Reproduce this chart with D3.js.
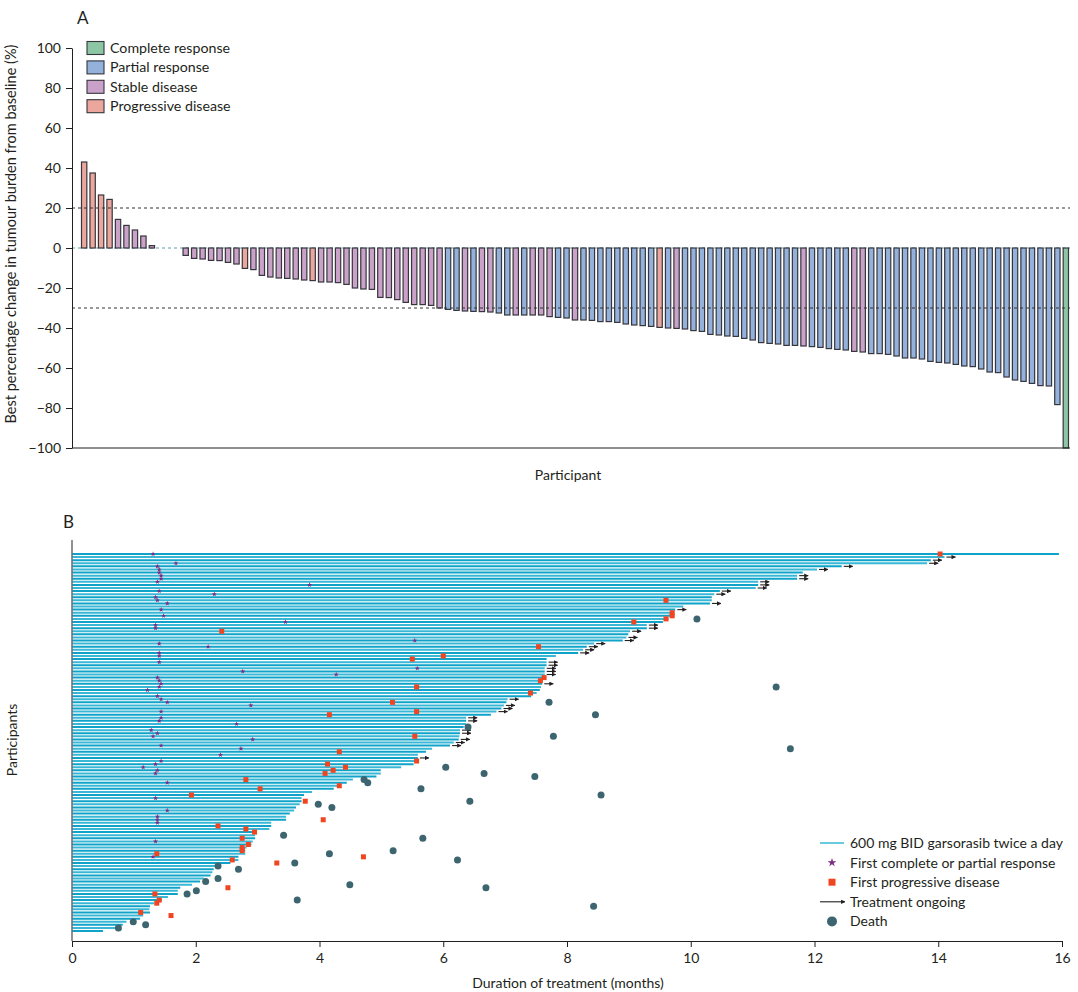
<!DOCTYPE html>
<html>
<head>
<meta charset="utf-8">
<script src="https://cdn.jsdelivr.net/npm/d3@7"></script>
<style>
  body { margin: 0; background: #fff; }
  text { font-family: Lato, "Open Sans", sans-serif; fill: #231f20; }
</style>
</head>
<body>
<div id="chart"></div>
<script>
// ---- panel A: best change from baseline, one bar per participant
const barChange = [
  43, 37.5, 26.5, 24.3, 14.3, 11.3, 9, 6, 1.2, 0, 0, 0,
  -3.7, -5.2, -5.5, -6.2, -6.3, -7.2, -8, -10.2, -10.8, -13.7, -14.5, -15, -15.2, -15.5, -16, -16.3,
  -17, -17, -17.3, -18.2, -20, -20.5, -20.7, -24.7, -24.8, -25.8, -27.2, -28.3, -28.3, -28.7, -30,
  -30.7, -31.2, -31.5, -31.7, -31.8, -32, -32.5, -33.5, -33.5, -33.5, -33.5, -33.5, -34.3, -34.7, -35, -36,
  -36, -36.2, -36.8, -36.8, -37.2, -38, -38.5, -38.8, -39.2, -39.7, -40, -40.2,
  -40.5, -41.3, -41.7, -43.2, -43.5, -44, -44.2, -45.2, -46, -47.3, -47.7, -48, -48.7, -48.7,
  -49,
  -49.3, -49.7, -50.3, -50.7, -51,
  -51.7, -52,
  -52.8, -52.8, -53.2, -54, -55, -55, -55.5, -56.7, -57.2, -57.5, -58.2, -59, -59.3, -60.5, -62, -62.3,
  -64.5, -66, -66.7, -67.7, -68.8, -69, -78.3,
  -100
];
const barResponse = [
  "PD","PD","PD","PD","SD","SD","SD","SD","SD","SD","SD","SD",
  "SD","SD","SD","SD","SD","SD","SD","PD","SD","SD","SD","SD","SD","SD","SD","PD",
  "SD","SD","SD","SD","SD","SD","SD","SD","SD","SD","SD","SD","SD","SD","SD",
  "PR","PR","SD","PR","SD","SD","PR","PR","SD","PR","SD","SD","SD","PR","PR","SD",
  "PR","PR","PR","PR","PR","PR","PR","PR","PR","PD","PR","SD",
  "PR","PR","PR","PR","PR","PR","PR","PR","PR","PR","PR","PR","PR","PR",
  "SD",
  "PR","PR","PR","PR","PR",
  "SD","SD",
  "PR","PR","PR","PR","PR","PR","PR","PR","PR","PR","PR","PR","PR","PR","PR","PR",
  "PR","PR","PR","PR","PR","PR","PR",
  "CR"
];
const responseKeys = ["CR", "PR", "SD", "PD"];
const responseLabels = ["Complete response", "Partial response", "Stable disease", "Progressive disease"];
const responseColors = ["#8cc6a5", "#93b1da", "#c9a1c9", "#eba79e"];
const yTicksA = d3.range(-100, 101, 20);
const thresholds = [20, -30];

// ---- panel B: duration of treatment per participant (months), top to bottom
const duration = [
  15.95, 14.1, 13.88, 13.82, 12.44, 12.04, 11.81, 11.72, 11.72, 11.09,
  11.09, 11.05, 10.47, 10.38, 10.34, 10.34, 10.31, 9.88, 9.75, 9.72,
  9.72, 9.64, 9.55, 9.29, 9.29, 9.02, 8.99, 8.96, 8.9, 8.44,
  8.32, 8.26, 8.18, 7.82, 7.67, 7.67, 7.67, 7.64, 7.64, 7.64,
  7.63, 7.6, 7.6, 7.58, 7.56, 7.51, 7.42, 7.04, 7.02, 6.98,
  6.94, 6.86, 6.77, 6.37, 6.37, 6.37, 6.33, 6.27, 6.27, 6.26,
  6.25, 6.17, 6.11, 5.82, 5.72, 5.59, 5.59, 5.57, 5.52, 5.32,
  4.99, 4.99, 4.92, 4.54, 4.44, 4.33, 4.23, 3.88, 3.75, 3.71,
  3.71, 3.68, 3.62, 3.59, 3.52, 3.46, 3.46, 3.22, 3.22, 3.19,
  2.98, 2.96, 2.96, 2.92, 2.9, 2.82, 2.8, 2.8, 2.69, 2.69,
  2.56, 2.31, 2.29, 2.27, 2.24, 2.13, 2.07, 1.94, 1.75, 1.71,
  1.71, 1.55, 1.45, 1.33, 1.26, 1.25, 1.26, 1.15, 1.1, 0.88,
  0.82, 0.75, 0.5
];
// [participant row, month]
const firstResponse = [
  [0,1.31],[3,1.68],[4,1.38],[5,1.41],[6,1.41],[7,1.44],[8,1.44],[9,1.38],[10,3.84],[12,1.41],
  [13,2.3],[14,1.35],[15,1.38],[16,1.54],[18,1.44],[20,1.48],[22,3.45],[23,1.35],[24,1.35],[28,5.54],
  [29,1.41],[30,2.2],[32,1.41],[33,1.41],[35,1.41],[37,5.58],[38,2.76],[39,4.27],[40,1.38],[41,1.41],
  [42,1.44],[43,1.41],[44,1.22],[46,1.38],[47,1.44],[48,1.54],[49,2.89],[51,1.44],[53,1.44],[54,1.41],
  [55,2.66],[57,1.28],[58,1.38],[59,1.31],[60,2.92],[62,1.44],[63,2.73],[65,2.4],[67,1.44],[68,1.35],
  [69,1.15],[70,1.38],[71,1.35],[74,1.54],[79,1.35],[83,1.54],[85,1.38],[86,1.38],[87,1.38],[93,1.35],
  [98,1.31]
];
const firstProgression = [
  [0,14.03],[15,9.6],[19,9.7],[20,9.7],[21,9.6],[22,9.08],[25,2.42],[30,7.54],[33,6.0],[34,5.5],
  [40,7.63],[41,7.57],[43,5.57],[45,7.41],[48,5.18],[51,5.57],[52,4.16],[59,5.54],[64,4.32],[67,5.57],
  [68,4.13],[69,4.42],[70,4.22],[71,4.09],[73,2.81],[75,4.32],[76,3.04],[78,1.93],[80,3.77],[86,4.06],
  [88,2.36],[89,2.81],[90,2.95],[92,2.75],[94,2.85],[95,2.75],[96,2.75],[97,1.37],[98,4.71],[99,2.59],
  [100,3.31],[108,2.52],[110,1.34],[112,1.41],[113,1.37],[116,1.11],[117,1.6]
];
const ongoing = [1,2,3,4,5,7,8,9,10,11,12,13,16,18,23,24,25,27,28,29,30,31,32,35,36,37,38,39,42,
  47,49,50,51,53,54,57,58,60,61,62,66];
const deaths = [
  [21,10.1],[43,11.38],[48,7.71],[52,8.46],[56,6.4],[59,7.78],[63,11.61],[69,6.04],[71,6.66],[72,7.48],
  [73,4.72],[74,4.78],[76,5.64],[78,8.55],[80,6.43],[81,3.98],[82,4.2],[91,3.42],[92,5.67],[96,5.19],
  [97,4.16],[99,6.23],[100,3.6],[101,2.36],[102,2.69],[105,2.36],[106,2.16],[107,4.49],[108,6.69],[109,2.01],
  [110,1.86],[112,3.64],[114,8.43],[119,0.99],[120,1.19],[121,0.75]
];
const xTicksB = d3.range(0, 17, 2);
const legendB = ["600 mg BID garsorasib twice a day", "First complete or partial response",
  "First progressive disease", "Treatment ongoing", "Death"];

const W = 1078, H = 992;
const svg = d3.select("#chart").append("svg")
  .attr("width", W).attr("height", H)
  .attr("viewBox", [0, 0, W, H].join(" "));

svg.append("defs").append("marker")
  .attr("id", "arrowhead")
  .attr("viewBox", "0 0 10 10")
  .attr("refX", 9).attr("refY", 5)
  .attr("markerWidth", 4).attr("markerHeight", 4)
  .attr("orient", "auto")
  .append("path").attr("d", "M0,0L10,5L0,10z").attr("fill", "#231f20");

const color = d3.scaleOrdinal().domain(responseKeys).range(responseColors);

// ================= panel A =================
const xA = d3.scaleBand().domain(d3.range(barChange.length)).range([81.5, 1068.5]).paddingInner(0.37);
const yA = d3.scaleLinear().domain([-100, 100]).range([448, 48]);

const gA = svg.append("g");

gA.append("text").attr("x", 77).attr("y", 24).attr("font-size", 17).text("A");

// zero reference line behind the bars
gA.append("line")
  .attr("x1", 72).attr("x2", 1070).attr("y1", yA(0)).attr("y2", yA(0))
  .attr("stroke", "#5f9ea4").attr("stroke-width", 1).attr("stroke-dasharray", "3,3");

gA.selectAll(".bar")
  .data(barChange.map((v, i) => ({ i, v, r: barResponse[i] })).filter(d => d.v !== 0))
  .enter().append("rect")
  .attr("class", "bar")
  .attr("x", d => xA(d.i))
  .attr("width", xA.bandwidth())
  .attr("y", d => yA(Math.max(0, d.v)))
  .attr("height", d => Math.abs(yA(d.v) - yA(0)))
  .attr("fill", d => color(d.r))
  .attr("stroke", "#36363c").attr("stroke-width", 1.2);

gA.selectAll(".thr")
  .data(thresholds)
  .enter().append("line")
  .attr("class", "thr")
  .attr("x1", 72).attr("x2", 1070)
  .attr("y1", d => yA(d)).attr("y2", d => yA(d))
  .attr("stroke", "#333").attr("stroke-width", 1).attr("stroke-dasharray", "3,3");

const axA = gA.append("g")
  .attr("transform", "translate(72,0)")
  .call(d3.axisLeft(yA).tickValues(yTicksA).tickSize(6).tickSizeOuter(0)
    .tickFormat(d => d < 0 ? "\u2212" + Math.abs(d) : d));
axA.selectAll("text").attr("font-size", 14).attr("font-family", "Lato, sans-serif").attr("fill", "#231f20").attr("dx", "-2");
axA.selectAll("line, path").attr("stroke", "#231f20");

gA.append("line")
  .attr("x1", 72).attr("x2", 1070).attr("y1", yA(-100)).attr("y2", yA(-100))
  .attr("stroke", "#231f20");

gA.append("text")
  .attr("transform", "translate(16," + yA(7) + ") rotate(-90)")
  .attr("text-anchor", "middle").attr("font-size", 14.5)
  .text("Best percentage change in tumour burden from baseline (%)");

gA.append("text")
  .attr("x", 568).attr("y", 480).attr("text-anchor", "middle").attr("font-size", 14)
  .text("Participant");

const legA = gA.selectAll(".legA")
  .data(responseKeys)
  .enter().append("g")
  .attr("class", "legA")
  .attr("transform", (d, i) => "translate(87," + (48 + i * 19.4) + ")");
legA.append("rect")
  .attr("x", 0).attr("y", -6.5).attr("width", 17).attr("height", 13)
  .attr("fill", d => color(d)).attr("stroke", "#36363c").attr("stroke-width", 1.1);
legA.append("text")
  .attr("x", 23).attr("y", 5).attr("font-size", 14.2)
  .text((d, i) => responseLabels[i]);

// ================= panel B =================
const xB = d3.scaleLinear().domain([0, 16]).range([72, 1062]);
const yB = d3.scalePoint().domain(d3.range(duration.length)).range([554, 931]);

const gB = svg.append("g");

gB.append("text").attr("x", 63).attr("y", 528).attr("font-size", 17).text("B");

gB.selectAll(".swim")
  .data(duration)
  .enter().append("line")
  .attr("class", "swim")
  .attr("x1", xB(0)).attr("x2", d => xB(d))
  .attr("y1", (d, i) => yB(i)).attr("y2", (d, i) => yB(i))
  .attr("stroke", (d, i) => i % 2 ? "#38b8d6" : "#0fa3c9")
  .attr("stroke-width", 2);

gB.selectAll(".ongoing")
  .data(ongoing)
  .enter().append("line")
  .attr("class", "ongoing")
  .attr("x1", d => xB(duration[d]) + 2).attr("x2", d => xB(duration[d]) + 11)
  .attr("y1", d => yB(d)).attr("y2", d => yB(d))
  .attr("stroke", "#231f20").attr("stroke-width", 1.1)
  .attr("marker-end", "url(#arrowhead)");

gB.selectAll(".resp")
  .data(firstResponse)
  .enter().append("path")
  .attr("class", "resp")
  .attr("d", d3.symbol(d3.symbolStar, 8))
  .attr("transform", d => "translate(" + xB(d[1]) + "," + yB(d[0]) + ")")
  .attr("fill", "#7d2b82");

gB.selectAll(".prog")
  .data(firstProgression)
  .enter().append("rect")
  .attr("class", "prog")
  .attr("x", d => xB(d[1]) - 2.5).attr("y", d => yB(d[0]) - 2.5)
  .attr("width", 5).attr("height", 5)
  .attr("fill", "#f04521");

gB.selectAll(".death")
  .data(deaths)
  .enter().append("circle")
  .attr("class", "death")
  .attr("cx", d => xB(d[1])).attr("cy", d => yB(d[0])).attr("r", 3.5)
  .attr("fill", "#3d6570");

const axB = gB.append("g")
  .attr("transform", "translate(0,941)")
  .call(d3.axisBottom(xB).tickValues(xTicksB).tickSize(6).tickSizeOuter(0));
axB.selectAll("text").attr("font-size", 14).attr("font-family", "Lato, sans-serif").attr("fill", "#231f20").attr("dy", "0.9em");
axB.selectAll("line, path").attr("stroke", "#231f20");

gB.append("line")
  .attr("x1", 72).attr("x2", 72).attr("y1", 540).attr("y2", 941)
  .attr("stroke", "#6d6e71").attr("stroke-width", 1.5);

gB.append("text")
  .attr("x", 568).attr("y", 988).attr("text-anchor", "middle").attr("font-size", 14)
  .text("Duration of treatment (months)");

gB.append("text")
  .attr("transform", "translate(17,740) rotate(-90)")
  .attr("text-anchor", "middle").attr("font-size", 14)
  .text("Participants");

// legend B
const legB = gB.selectAll(".legB")
  .data(legendB)
  .enter().append("g")
  .attr("class", "legB")
  .attr("transform", (d, i) => "translate(820," + (843 + i * 19.6) + ")");
legB.append("text")
  .attr("x", 30).attr("y", 5).attr("font-size", 14)
  .text(d => d);
legB.filter((d, i) => i === 0).append("line")
  .attr("x1", 0).attr("x2", 24).attr("stroke", "#38b8d6").attr("stroke-width", 1.5);
legB.filter((d, i) => i === 1).append("path")
  .attr("d", d3.symbol(d3.symbolStar, 24)).attr("transform", "translate(12,0)").attr("fill", "#7d2b82");
legB.filter((d, i) => i === 2).append("rect")
  .attr("x", 8.5).attr("y", -3.5).attr("width", 7).attr("height", 7).attr("fill", "#f04521");
legB.filter((d, i) => i === 3).append("line")
  .attr("x1", 0).attr("x2", 25).attr("stroke", "#231f20").attr("stroke-width", 1.1)
  .attr("marker-end", "url(#arrowhead)");
legB.filter((d, i) => i === 4).append("circle")
  .attr("cx", 12).attr("r", 5).attr("fill", "#3d6570");
</script>
</body>
</html>
